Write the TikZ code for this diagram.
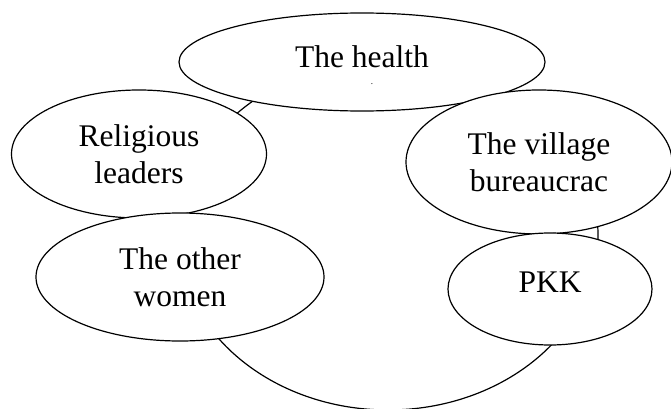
\documentclass[tikz,border=0pt]{standalone}
\usepackage{fontspec}
\setmainfont{Liberation Serif}
\usetikzlibrary{shapes.geometric}

\begin{document}
\begin{tikzpicture}[x=1pt,y=-1pt,line width=1.2pt,
  bubble/.style={draw,ellipse,fill=white,inner sep=0pt,align=center,font=\fontsize{31.5}{37}\selectfont}]
  % fixed frame of the picture
  \useasboundingbox (0,0) rectangle (671,409);

  % large ring behind the bubbles
  \node[draw,ellipse,minimum width=420pt,minimum height=350pt] (ring) at (388,235) {};

  % bubbles
  \node[bubble,minimum width=366pt,minimum height=98pt,text depth=11pt] (health) at (362,62) {The health};
  \node[font=\fontsize{9}{9}\selectfont,inner sep=0pt] (healthdot) at (372,84) {.};
  \node[bubble,minimum width=255pt,minimum height=128pt] (religious) at (139,154) {Religious\\leaders};
  \node[bubble,minimum width=266pt,minimum height=144pt] (village) at (539,162) {The village\\bureaucrac};
  \node[bubble,minimum width=288pt,minimum height=128pt] (women) at (180,277) {The other\\women};
  \node[bubble,minimum width=204pt,minimum height=112pt,text depth=14pt] (pkk) at (550,289) {PKK};
\end{tikzpicture}
\end{document}
